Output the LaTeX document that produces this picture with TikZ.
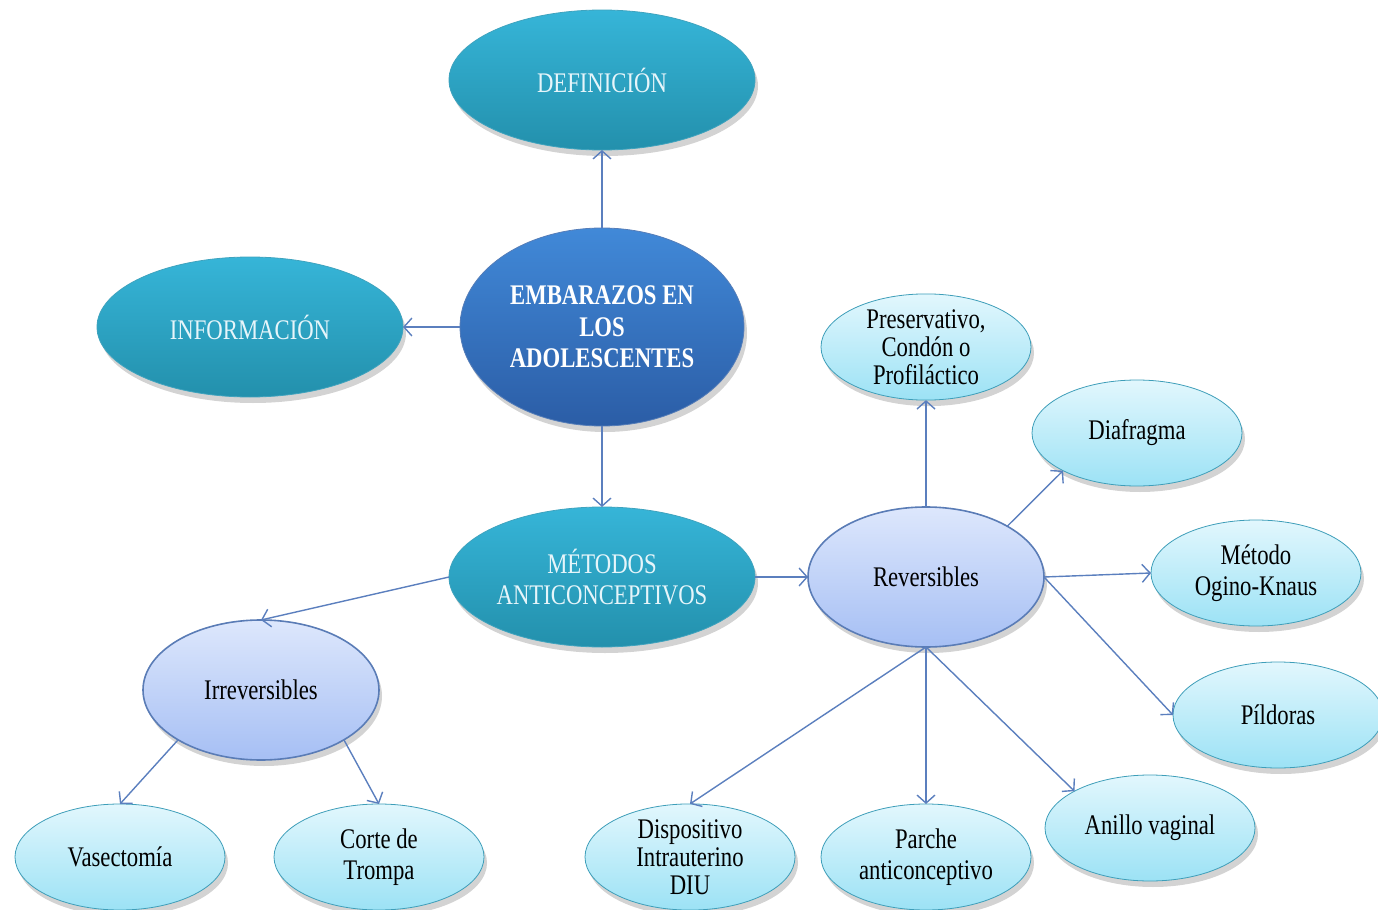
\documentclass[tikz,border=0pt]{standalone}
\usepackage{fontspec}
\setmainfont{Liberation Serif}[FakeStretch=0.8]
\usetikzlibrary{arrows.meta,shapes.geometric,shadows}

\definecolor{tealtop}{HTML}{36B5D8}
\definecolor{tealbot}{HTML}{2390AC}
\definecolor{tealline}{HTML}{3FA3BE}
\definecolor{maintop}{HTML}{4189D8}
\definecolor{mainbot}{HTML}{2B5DA6}
\definecolor{lavtop}{HTML}{DDE7FC}
\definecolor{lavbot}{HTML}{A6BFF4}
\definecolor{lavline}{HTML}{5A7CB6}
\definecolor{skytop}{HTML}{E2F7FD}
\definecolor{skybot}{HTML}{9CE2F5}
\definecolor{skyline}{HTML}{3E9EB9}
\definecolor{arrowblue}{HTML}{5B7FBE}
\definecolor{paletext}{HTML}{E6F5FA}

\begin{document}
\begin{tikzpicture}[x=0.5pt,y=-0.5pt,
  bubble/.style={ellipse, inner sep=0pt, outer sep=0pt, align=center,
    font=\fontsize{14.2}{15.5}\selectfont,
    drop shadow={opacity=0.35,shadow xshift=1.5pt,shadow yshift=-3pt}},
  tealbox/.style={bubble, top color=tealtop, bottom color=tealbot, draw=tealline,
    text=paletext, minimum width=153pt, minimum height=70pt},
  mainbox/.style={bubble, top color=maintop, bottom color=mainbot, draw=mainbot!80!white,
    text=white, font=\bfseries\fontsize{14.2}{15.8}\selectfont,
    minimum width=142pt, minimum height=99pt},
  lavbox/.style={bubble, top color=lavtop, bottom color=lavbot, draw=lavline,
    line width=0.8pt, minimum width=118pt, minimum height=70pt},
  skybox/.style={bubble, top color=skytop, bottom color=skybot, draw=skyline,
    minimum width=105pt, minimum height=53pt},
  link/.style={draw=arrowblue, line width=0.7pt, -{Straight Barb[length=4pt,width=9pt]}}]
  \useasboundingbox (0,0) rectangle (1378,910);

  % top part
  \node[tealbox] (def) at (602,80) {DEFINICIÓN};
  \node[mainbox] (emb) at (602,327) {EMBARAZOS EN\\LOS\\ADOLESCENTES};
  \node[tealbox] (info) at (250,327) {INFORMACIÓN};
  \node[tealbox] (met) at (602,577) {MÉTODOS\\ANTICONCEPTIVOS};
  \node[lavbox] (rev) at (926,577) {Reversibles};
  \node[lavbox] (irr) at (261,690) {Irreversibles};

  % methods
  \node[skybox, font=\fontsize{14.2}{14}\selectfont] (pres) at (926,347) {Preservativo,\\Condón o\\Profiláctico};
  \node[skybox] (diaf) at (1137,433) {Diafragma};
  \node[skybox] (ogino) at (1256,573) {Método\\Ogino-Knaus};
  \node[skybox] (pild) at (1278,715) {Píldoras};
  \node[skybox] (anillo) at (1150,828) {Anillo vaginal};
  \node[skybox] (parche) at (926,857) {Parche\\anticonceptivo};
  \node[skybox, font=\fontsize{14.2}{14}\selectfont] (diu) at (690,857) {Dispositivo\\Intrauterino\\DIU};
  \node[skybox] (vas) at (120,857) {Vasectomía};
  \node[skybox] (corte) at (379,857) {Corte de\\Trompa};

  % arrows
  \draw[link] (emb.north) -- (def.south);
  \draw[link] (emb.west) -- (info.east);
  \draw[link] (emb.south) -- (met.north);
  \draw[link] (met.east) -- (rev.west);
  \draw[link] (met.west) -- (irr.north);
  \draw[link] (irr.211) -- (vas.north);
  \draw[link] (irr.-31) -- (corte.north);
  \draw[link] (rev.north) -- (pres.south);
  \draw[link] (rev.32) -- (diaf.207);
  \draw[link] (rev.east) -- (ogino.west);
  \draw[link] (rev.east) -- (pild.west);
  \foreach \to/\at in {diu/north,parche/north,anillo/154}
    \draw[link] (rev.south) -- (\to.\at);
\end{tikzpicture}
\end{document}
